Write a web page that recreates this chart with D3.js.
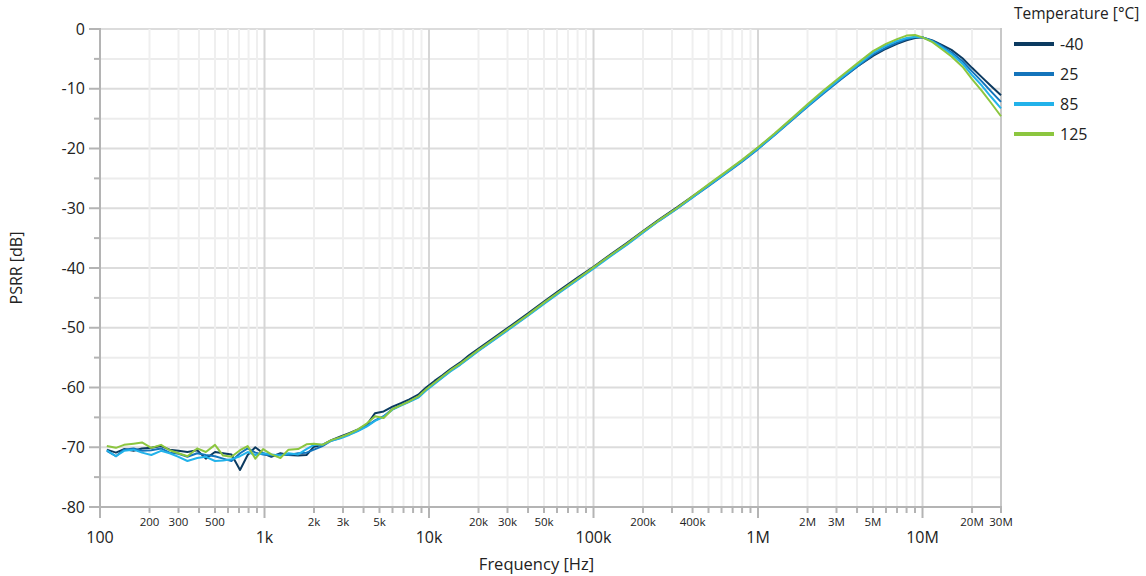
<!DOCTYPE html>
<html lang="en">
<head>
<meta charset="UTF-8">
<title>PSRR vs Frequency</title>
<style>
  body { margin: 0; background: #fff; }
  text { font-family: "Open Sans", "Noto Sans", sans-serif; fill: #222; }
</style>
</head>
<body>
<svg id="chart" width="1146" height="576"></svg>
<script src="https://d3js.org/d3.v7.min.js"></script>
<script>

var freqHz = [110,125,140,160,180,205,235,265,300,340,390,440,500,560,630,710,790,880,980,1100,1250,1400,1600,1800,2000,
  2250,2550,2900,3300,3700,4200,4700,5300,6000,6800,7600,8600,9600,10800,
  12000,13500,15500,17500,20000,25000,32000,40000,50000,63000,80000,100000,126000,160000,200000,250000,320000,400000,500000,630000,800000,1000000,
  1260000,1600000,2000000,2500000,3200000,4000000,5000000,6000000,7000000,8000000,9000000,10000000,
  11500000,13000000,15000000,17500000,20000000,23000000,26000000,30000000];

var psrrM40 = [-70.4,-70.9,-70.3,-70.6,-70.2,-70.1,-69.8,-70.4,-70.6,-70.8,-70.5,-71.9,-70.8,-71.0,-71.2,-73.8,-71.3,-70.0,-71.0,-71.6,-71.0,-71.3,-71.4,-71.3,-69.9,
  -69.6,-68.8,-68.2,-67.6,-67.0,-66.2,-64.3,-64.0,-63.2,-62.6,-62.0,-61.2,-60.0,-58.9,
  -58.0,-56.9,-55.8,-54.6,-53.5,-51.6,-49.5,-47.6,-45.6,-43.6,-41.6,-39.8,-37.8,-35.8,-33.8,-31.9,-29.9,-28.0,-26.1,-24.1,-22.0,-19.9,
  -17.6,-15.1,-12.8,-10.6,-8.3,-6.3,-4.5,-3.3,-2.5,-1.9,-1.5,-1.4,
  -1.9,-2.6,-3.5,-4.9,-6.5,-8.1,-9.5,-11.1];

var psrr25 = [-70.6,-71.5,-70.4,-70.2,-70.6,-70.5,-70.2,-70.9,-71.1,-71.6,-71.0,-71.3,-71.5,-71.9,-72.3,-71.0,-70.2,-70.9,-71.2,-71.4,-71.2,-71.3,-71.0,-70.9,-70.4,
  -69.8,-68.9,-68.4,-67.8,-67.2,-66.4,-65.5,-64.8,-63.6,-62.9,-62.3,-61.6,-60.4,-59.3,
  -58.3,-57.2,-56.1,-55.0,-53.8,-51.9,-49.8,-47.9,-45.9,-43.9,-41.9,-40.0,-38.0,-36.0,-34.0,-32.1,-30.1,-28.2,-26.3,-24.3,-22.2,-20.1,
  -17.8,-15.3,-13.0,-10.8,-8.4,-6.3,-4.3,-3.1,-2.3,-1.7,-1.4,-1.4,
  -2.0,-2.8,-3.9,-5.4,-7.1,-8.8,-10.4,-12.2];

var psrr85 = [-70.5,-71.5,-70.6,-70.4,-70.9,-71.3,-70.6,-71.0,-71.6,-72.3,-71.8,-71.6,-72.3,-72.2,-72.0,-71.5,-70.8,-71.3,-71.0,-71.2,-71.4,-71.0,-71.2,-70.3,-69.6,
  -69.6,-68.9,-68.5,-67.9,-67.3,-66.5,-65.6,-64.9,-63.7,-63.0,-62.4,-61.7,-60.5,-59.4,
  -58.4,-57.3,-56.2,-55.1,-53.9,-52.0,-49.9,-48.0,-46.0,-44.0,-42.0,-40.1,-38.1,-36.1,-34.1,-32.1,-30.1,-28.2,-26.2,-24.2,-22.1,-20.0,
  -17.7,-15.2,-12.9,-10.6,-8.2,-6.1,-4.0,-2.8,-2.0,-1.5,-1.3,-1.4,
  -2.1,-3.0,-4.2,-5.8,-7.7,-9.5,-11.3,-13.3];

var psrr125 = [-69.8,-70.1,-69.6,-69.4,-69.2,-70.1,-69.6,-70.5,-71.0,-71.5,-70.2,-70.8,-69.6,-71.4,-71.6,-70.5,-69.8,-71.9,-70.3,-71.2,-71.8,-70.4,-70.3,-69.5,-69.4,
  -69.6,-68.8,-68.3,-67.7,-67.0,-66.0,-64.8,-65.1,-63.6,-62.9,-62.3,-61.5,-60.3,-59.2,
  -58.2,-57.1,-56.0,-54.9,-53.7,-51.8,-49.7,-47.8,-45.8,-43.8,-41.8,-39.9,-37.9,-35.9,-33.9,-32.0,-30.0,-28.0,-26.0,-24.0,-21.9,-19.8,
  -17.5,-15.0,-12.6,-10.3,-7.9,-5.8,-3.7,-2.5,-1.7,-1.1,-1.0,-1.4,
  -2.2,-3.3,-4.6,-6.3,-8.4,-10.4,-12.3,-14.6];

var seriesNames = ["-40", "25", "85", "125"];
var seriesColors = ["#0b3a60", "#1474bb", "#22b2ea", "#8cc63f"];

var yTicks = [0, -10, -20, -30, -40, -50, -60, -70, -80];
var xMajorTicks = [100, 1e3, 1e4, 1e5, 1e6, 1e7];
var xMajorLabels = ["100", "1k", "10k", "100k", "1M", "10M"];
var xMinorLabelTicks = [200, 300, 500, 2e3, 3e3, 5e3, 2e4, 3e4, 5e4, 2e5, 4e5, 2e6, 3e6, 5e6, 2e7, 3e7];
var xMinorLabels = ["200", "300", "500", "2k", "3k", "5k", "20k", "30k", "50k", "200k", "400k", "2M", "3M", "5M", "20M", "30M"];

var svg = d3.select("#chart");
var plotLeft = 100, plotRight = 1001, plotTop = 29, plotBottom = 507;

var x = d3.scaleLog().domain([100, 3e7]).range([plotLeft, plotRight]);
var y = d3.scaleLinear().domain([-80, 0]).range([plotBottom, plotTop]);

// every 1..9 multiple inside the domain
var allX = [];
for (var d = 100; d <= 1e7; d *= 10) {
  for (var k = 1; k <= 9; k++) {
    if (d * k <= 3e7) allX.push(d * k);
  }
}
var yGrid = d3.range(-80, 1, 5);

var grid = svg.append("g");
grid.selectAll(".hg").data(yGrid).enter().append("line")
  .attr("x1", plotLeft).attr("x2", plotRight)
  .attr("y1", function (v) { return y(v); }).attr("y2", function (v) { return y(v); })
  .attr("stroke", function (v) { return v % 10 === 0 ? "#dcdcdc" : "#ececec"; })
  .attr("stroke-width", 2);
grid.selectAll(".vg").data(allX).enter().append("line")
  .attr("x1", function (f) { return x(f); }).attr("x2", function (f) { return x(f); })
  .attr("y1", plotTop).attr("y2", plotBottom)
  .attr("stroke", function (f) { return xMajorTicks.indexOf(f) >= 0 ? "#d6d6d6" : "#efefef"; })
  .attr("stroke-width", 2);
grid.append("line").attr("x1", plotRight).attr("x2", plotRight).attr("y1", plotTop - 1).attr("y2", plotBottom)
  .attr("stroke", "#c8c8c8").attr("stroke-width", 2);

// y axis
var yAxis = svg.append("g");
yAxis.append("line").attr("x1", plotLeft).attr("x2", plotLeft).attr("y1", plotTop - 1).attr("y2", plotBottom + 1)
  .attr("stroke", "#b4b4b4").attr("stroke-width", 2);
yAxis.selectAll(".yt").data(yGrid).enter().append("line")
  .attr("x1", function (v) { return v % 10 === 0 ? plotLeft - 11 : plotLeft - 6; }).attr("x2", plotLeft)
  .attr("y1", function (v) { return y(v); }).attr("y2", function (v) { return y(v); })
  .attr("stroke", "#b4b4b4").attr("stroke-width", 2);
yAxis.selectAll(".yl").data(yTicks).enter().append("text")
  .attr("x", plotLeft - 15).attr("y", function (v) { return y(v); })
  .attr("dy", "0.35em").attr("text-anchor", "end").style("font-size", "16px")
  .text(function (v) { return v; });

// x axis
var xAxis = svg.append("g");
xAxis.append("line").attr("x1", plotLeft - 1).attr("x2", plotRight + 1).attr("y1", plotBottom).attr("y2", plotBottom)
  .attr("stroke", "#b4b4b4").attr("stroke-width", 2);
xAxis.selectAll(".xt").data(allX.concat([3e7])).enter().append("line")
  .attr("x1", function (f) { return x(f); }).attr("x2", function (f) { return x(f); })
  .attr("y1", plotBottom).attr("y2", function (f) { return xMajorTicks.indexOf(f) >= 0 ? plotBottom + 11 : plotBottom + 6; })
  .attr("stroke", "#b4b4b4").attr("stroke-width", 2);
xAxis.selectAll(".xl").data(xMajorTicks).enter().append("text")
  .attr("x", function (f) { return x(f); }).attr("y", plotBottom + 36)
  .attr("text-anchor", "middle").style("font-size", "16px")
  .text(function (f, i) { return xMajorLabels[i]; });
xAxis.selectAll(".xm").data(xMinorLabelTicks).enter().append("text")
  .attr("x", function (f) { return x(f); }).attr("y", plotBottom + 19)
  .attr("text-anchor", "middle").style("font-size", "11.5px")
  .text(function (f, i) { return xMinorLabels[i]; });

svg.append("text").attr("x", (plotLeft + plotRight) / 2 - 14).attr("y", 570)
  .attr("text-anchor", "middle").style("font-size", "16.5px").text("Frequency [Hz]");
svg.append("text").attr("transform", "translate(22," + ((plotTop + plotBottom) / 2) + ") rotate(-90)")
  .attr("text-anchor", "middle").style("font-size", "16px").text("PSRR [dB]");

// curves
var allSeries = [psrrM40, psrr25, psrr85, psrr125];
var line = d3.line()
  .x(function (d, i) { return x(freqHz[i]); })
  .y(function (d) { return y(d); });

svg.append("g").selectAll("path").data(allSeries).enter().append("path")
  .attr("d", line)
  .attr("fill", "none")
  .attr("stroke", function (d, i) { return seriesColors[i]; })
  .attr("stroke-width", 2)
  .attr("stroke-linejoin", "round");

// legend
var legend = svg.append("g");
legend.append("text").attr("x", 1014).attr("y", 19).style("font-size", "15.5px").text("Temperature [°C]");
var items = legend.selectAll(".li").data(seriesNames).enter().append("g")
  .attr("transform", function (d, i) { return "translate(1014," + (44 + i * 30) + ")"; });
items.append("line").attr("x1", 0).attr("x2", 40).attr("y1", 0).attr("y2", 0)
  .attr("stroke", function (d, i) { return seriesColors[i]; }).attr("stroke-width", 4);
items.append("text").attr("x", 46).attr("dy", "0.35em").style("font-size", "16px")
  .text(function (d) { return d; });

</script>
</body>
</html>
